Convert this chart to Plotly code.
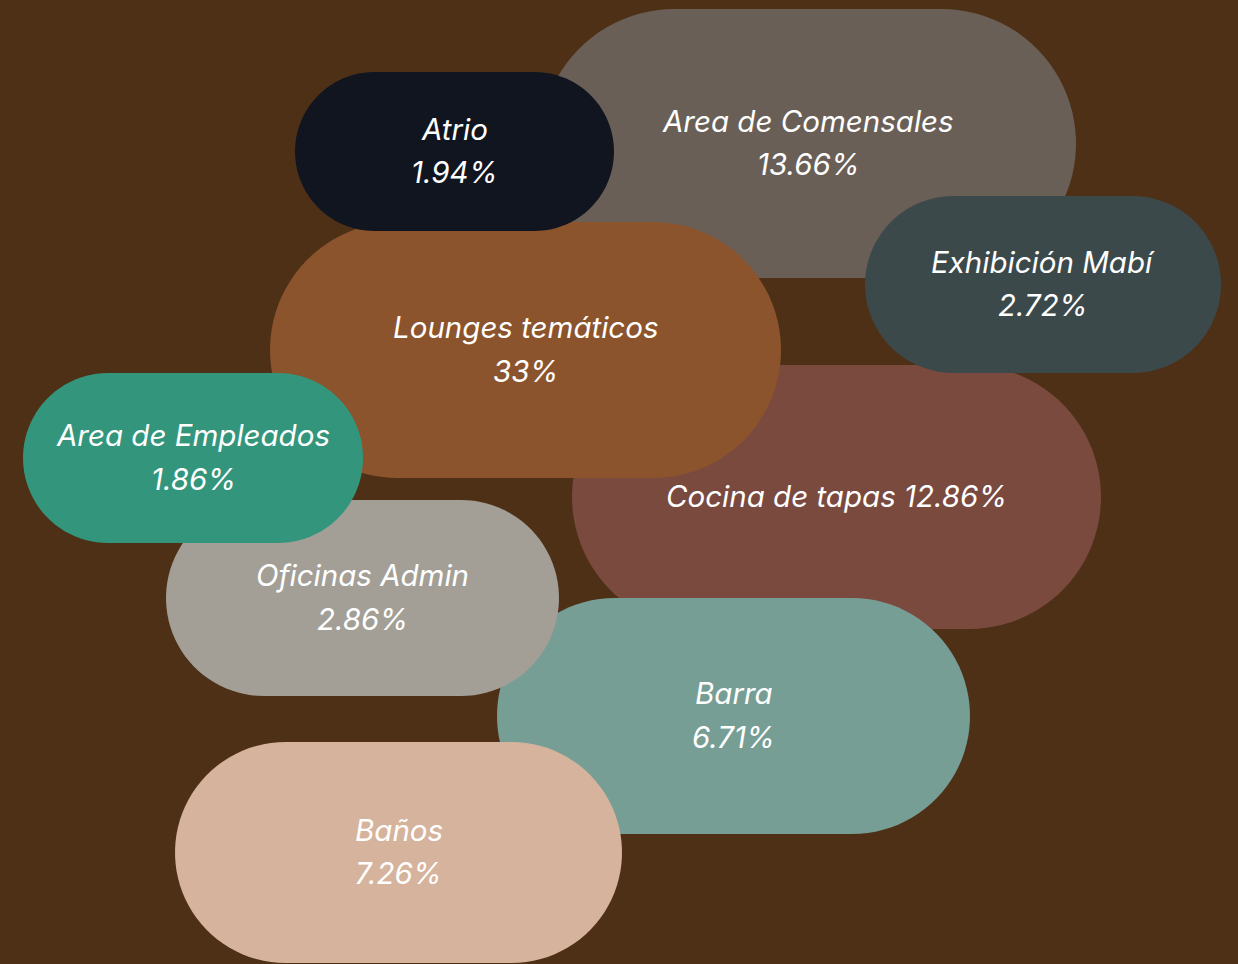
import numpy as np
import plotly.graph_objects as go

# Space allocation by area (share of total floor area, %)
labels = ["Area de Comensales", "Cocina de tapas", "Lounges temáticos", "Atrio",
          "Exhibición Mabí", "Barra", "Oficinas Admin", "Area de Empleados", "Baños"]
shares = [13.66, 12.86, 33, 1.94, 2.72, 6.71, 2.86, 1.86, 7.26]
colors = ["#6a5f56", "#7a4a3f", "#8b542c", "#10151f", "#3c494b",
          "#769e95", "#a39f97", "#33967c", "#d6b39c"]
single_line = [False, True, False, False, False, False, False, False, False]

# Pill placement (centre, width, height) in canvas units
pill_cx = [808, 836.5, 525.5, 454.5, 1043, 733.5, 362.5, 193, 398.5]
pill_cy = [143.5, 497, 350, 151.5, 284.5, 716, 598, 458, 852.5]
pill_w = [536, 529, 511, 319, 356, 473, 393, 340, 447]
pill_h = [269, 264, 256, 159, 177, 236, 196, 170, 221]

W, H = 1238, 964
BG = "#4e3017"


def pill_path(cx, cy, w, h, n=48):
    r = h / 2
    xl, xr = cx - w / 2 + r, cx + w / 2 - r
    right = np.linspace(-np.pi / 2, np.pi / 2, n)
    left = np.linspace(np.pi / 2, 3 * np.pi / 2, n)
    pts = [(xr + r * np.cos(t), cy + r * np.sin(t)) for t in right]
    pts += [(xl + r * np.cos(t), cy + r * np.sin(t)) for t in left]
    return "M " + " L ".join(f"{x:.2f},{y:.2f}" for x, y in pts) + " Z"


fig = go.Figure()
fig.add_trace(go.Scatter(x=[0, W], y=[0, H], mode="markers",
                         marker=dict(opacity=0), hoverinfo="skip", showlegend=False))

shapes = []
annotations = []
font = dict(family="Inter, 'Public Sans', sans-serif", size=29.5, color="white", style="italic")
for lab, v, c, one, cx, cy, w, h in zip(labels, shares, colors, single_line,
                                        pill_cx, pill_cy, pill_w, pill_h):
    shapes.append(dict(type="path", path=pill_path(cx, cy, w, h), xref="x", yref="y",
                       fillcolor=c, line=dict(width=0), layer="above"))
    pct = f"{v:g}%"
    if one:
        annotations.append(dict(x=cx, y=cy - 1, text=f"{lab} {pct}", showarrow=False,
                                xref="x", yref="y", font=font))
    else:
        annotations.append(dict(x=cx, y=cy - 23, text=lab, showarrow=False,
                                xref="x", yref="y", font=font))
        annotations.append(dict(x=cx, y=cy + 20.5, text=pct, showarrow=False,
                                xref="x", yref="y", font=font))

fig.update_layout(
    width=W, height=H,
    margin=dict(l=0, r=0, t=0, b=0),
    paper_bgcolor=BG, plot_bgcolor=BG,
    xaxis=dict(range=[0, W], visible=False, fixedrange=True),
    yaxis=dict(range=[H, 0], visible=False, fixedrange=True),
    shapes=shapes, annotations=annotations,
    showlegend=False,
)

fig.write_html("out.html")
